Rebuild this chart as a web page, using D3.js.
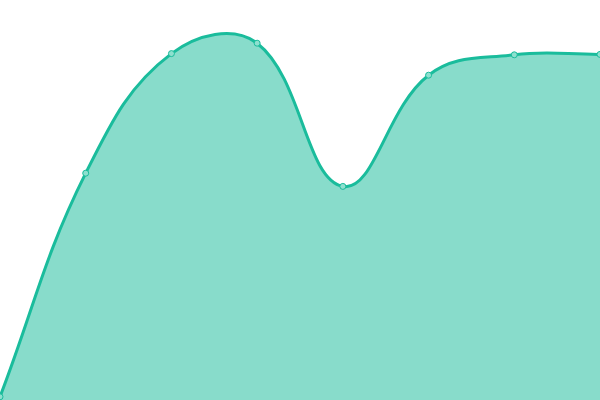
<!DOCTYPE html>
<html>
<head>
<meta charset="utf-8">
<script src="https://cdn.jsdelivr.net/npm/d3@7"></script>
<style>
html,body{margin:0;padding:0;background:#fff;overflow:hidden;}
svg{display:block;}
</style>
</head>
<body>
<svg id="chart" width="600" height="400"></svg>
<script>
const categories = [0, 1, 2, 3, 4, 5, 6, 7];
const values = [0.8, 56.7, 86.6, 89.2, 53.4, 81.2, 86.3, 86.4];

const W = 600, H = 400;
const TENSION = 0.4;

// Spline curve (distance-weighted cardinal spline) as a D3 curve factory
function SplineCurve(context) { this._context = context; }
SplineCurve.prototype = {
  areaStart() { this._line = 0; },
  areaEnd() { this._line = NaN; },
  lineStart() { this._pts = []; },
  point(x, y) { this._pts.push([+x, +y]); },
  lineEnd() {
    const p = this._pts, n = p.length, ctx = this._context;
    if (n) {
      if (this._line) ctx.lineTo(p[0][0], p[0][1]); else ctx.moveTo(p[0][0], p[0][1]);
      const cps = p.map((cur, i) => {
        const prev = p[Math.max(i - 1, 0)], next = p[Math.min(i + 1, n - 1)];
        const d01 = Math.hypot(cur[0] - prev[0], cur[1] - prev[1]);
        const d12 = Math.hypot(next[0] - cur[0], next[1] - cur[1]);
        let s01 = d01 / (d01 + d12), s12 = d12 / (d01 + d12);
        if (!isFinite(s01)) s01 = 0;
        if (!isFinite(s12)) s12 = 0;
        const fa = TENSION * s01, fb = TENSION * s12;
        const clampX = v => Math.max(0, Math.min(W, v));
        const clampY = v => Math.max(0, Math.min(H, v));
        return {
          prev: [clampX(cur[0] - fa * (next[0] - prev[0])), clampY(cur[1] - fa * (next[1] - prev[1]))],
          next: [clampX(cur[0] + fb * (next[0] - prev[0])), clampY(cur[1] + fb * (next[1] - prev[1]))]
        };
      });
      for (let i = 1; i < n; i++) {
        const a = cps[i - 1].next, b = cps[i].prev;
        ctx.bezierCurveTo(a[0], a[1], b[0], b[1], p[i][0], p[i][1]);
      }
    }
    if (this._line || (this._line !== 0 && n === 1)) ctx.closePath();
    this._line = 1 - this._line;
  }
};
const curveSpline = ctx => new SplineCurve(ctx);

const svg = d3.select("#chart");
const x = d3.scaleLinear().domain([0, categories.length - 1]).range([0, W]);
const y = d3.scaleLinear().domain([0, 100]).range([H, 0]);
const data = categories.map((c, i) => ({c, v: values[i]}));

const area = d3.area()
  .x(d => x(d.c)).y0(y(0)).y1(d => y(d.v))
  .curve(curveSpline);
const line = d3.line()
  .x(d => x(d.c)).y(d => y(d.v))
  .curve(curveSpline);

svg.append("path").datum(data)
  .attr("d", area)
  .attr("fill", "#1abc9c").attr("fill-opacity", 0.52);
svg.append("path").datum(data)
  .attr("d", line)
  .attr("fill", "none").attr("stroke", "#1abc9c").attr("stroke-width", 3);
svg.selectAll("circle").data(data).join("circle")
  .attr("cx", d => x(d.c)).attr("cy", d => y(d.v))
  .attr("r", 3)
  .attr("fill", "#8ee0cf").attr("stroke", "#1abc9c").attr("stroke-width", 1);
</script>
</body>
</html>
